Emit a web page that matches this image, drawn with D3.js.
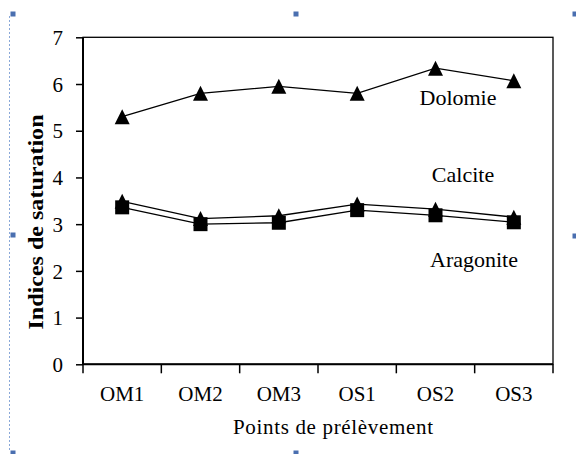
<!DOCTYPE html>
<html>
<head>
<meta charset="utf-8">
<script src="https://cdn.jsdelivr.net/npm/d3@7"></script>
<style>
  body { margin: 0; background: #fff; }
  svg text { font-family: "Liberation Serif", "DejaVu Serif", serif; fill: #000; }
</style>
</head>
<body>
<script>
var points = ['OM1', 'OM2', 'OM3', 'OS1', 'OS2', 'OS3']
var dolomie = [5.30, 5.80, 5.95, 5.80, 6.34, 6.07]
var calcite = [3.49, 3.12, 3.18, 3.43, 3.32, 3.15]
var aragonite = [3.36, 3.00, 3.03, 3.30, 3.19, 3.04]
var yTicks = [0, 1, 2, 3, 4, 5, 6, 7]

var W = 576, H = 454
var margin = { top: 37.3, left: 83, bottom: 89.7, right: 23 }

var svg = d3.select('body').append('svg')
  .attr('width', W).attr('height', H)

var x = d3.scaleBand().domain(points)
  .range([margin.left, W - margin.right])
var y = d3.scaleLinear().domain([0, 7])
  .range([H - margin.bottom, margin.top])

// selection frame decoration
svg.append('line')
  .attr('x1', 9.5).attr('x2', 9.5).attr('y1', 16).attr('y2', 452)
  .attr('stroke', '#8aa8d8').attr('stroke-dasharray', '2,2')
var handles = [[13, 14], [296, 14], [575, 14], [13, 235], [575, 236], [13, 453], [296, 453]]
svg.selectAll('rect.handle').data(handles).enter().append('rect')
  .attr('x', function(d) { return d[0] - 2.5 })
  .attr('y', function(d) { return d[1] - 2.5 })
  .attr('width', 5).attr('height', 5)
  .attr('fill', '#4a6fb0')

// plot frame
svg.append('rect')
  .attr('x', margin.left).attr('y', margin.top)
  .attr('width', W - margin.left - margin.right)
  .attr('height', H - margin.top - margin.bottom)
  .attr('fill', 'none').attr('stroke', '#000').attr('stroke-width', 1.3)
svg.append('line')
  .attr('x1', margin.left).attr('x2', margin.left)
  .attr('y1', margin.top).attr('y2', H - margin.bottom)
  .attr('stroke', '#000').attr('stroke-width', 2)
svg.append('line')
  .attr('x1', margin.left).attr('x2', W - margin.right)
  .attr('y1', H - margin.bottom).attr('y2', H - margin.bottom)
  .attr('stroke', '#000').attr('stroke-width', 2)

var yAxis = svg.append('g')
  .attr('transform', 'translate(' + margin.left + ',0)')
  .call(d3.axisLeft(y).tickValues(yTicks).tickFormat(d3.format('d')).tickSize(7).tickPadding(13))
yAxis.select('.domain').remove()
yAxis.selectAll('line').attr('stroke-width', 1.5)
yAxis.selectAll('text')
  .attr('dy', '0.34em')
  .style('font-size', '21px')
  .style('font-family', '"Liberation Serif", serif')

var bounds = x.domain().map(function(d) { return x(d) }).concat(W - margin.right)
svg.selectAll('line.xtick').data(bounds).enter().append('line')
  .attr('x1', function(d) { return d }).attr('x2', function(d) { return d })
  .attr('y1', y(0)).attr('y2', y(0) + 9)
  .attr('stroke', '#000').attr('stroke-width', 1.5)

svg.selectAll('text.xlab').data(points).enter().append('text')
  .attr('x', function(d) { return x(d) + x.bandwidth() / 2 })
  .attr('y', 401)
  .attr('text-anchor', 'middle')
  .style('font-size', '21px')
  .text(function(d) { return d })

// axis titles
svg.append('text')
  .attr('transform', 'translate(43,222) rotate(-90)')
  .attr('text-anchor', 'middle')
  .attr('textLength', 215).attr('lengthAdjust', 'spacingAndGlyphs')
  .style('font-size', '20px').style('font-weight', 'bold')
  .text('Indices de saturation')

svg.append('text')
  .attr('x', 333).attr('y', 434)
  .attr('text-anchor', 'middle')
  .attr('textLength', 200).attr('lengthAdjust', 'spacing')
  .style('font-size', '21px')
  .text('Points de prélèvement')

var line = d3.line()
  .x(function(d, i) { return x(points[i]) + x.bandwidth() / 2 })
  .y(function(d) { return y(d) })

// Excel-like markers: triangle about 15 x 15, square about 14 x 14
var excelTriangle = {
  draw: function(ctx, size) {
    var s = Math.sqrt(size) / 2
    ctx.moveTo(0, -s)
    ctx.lineTo(s, s)
    ctx.lineTo(-s, s)
    ctx.closePath()
  }
}
var triangle = d3.symbol().type(excelTriangle).size(225)
var square = d3.symbol().type(d3.symbolSquare).size(196)

function drawSeries(values, sym) {
  svg.append('path')
    .attr('d', line(values))
    .attr('fill', 'none').attr('stroke', '#000').attr('stroke-width', 1.3)
  svg.selectAll(null).data(values).enter().append('path')
    .attr('d', sym)
    .attr('transform', function(d, i) {
      return 'translate(' + (x(points[i]) + x.bandwidth() / 2) + ',' + y(d) + ')'
    })
    .attr('fill', '#000')
}

drawSeries(dolomie, triangle)
drawSeries(calcite, triangle)
drawSeries(aragonite, square)

var labels = [['Dolomie', 458, 105], ['Calcite', 463, 182], ['Aragonite', 474, 267]]
svg.selectAll('text.series').data(labels).enter().append('text')
  .attr('x', function(d) { return d[1] }).attr('y', function(d) { return d[2] })
  .attr('text-anchor', 'middle')
  .style('font-size', '22px')
  .text(function(d) { return d[0] })
</script>
</body>
</html>
